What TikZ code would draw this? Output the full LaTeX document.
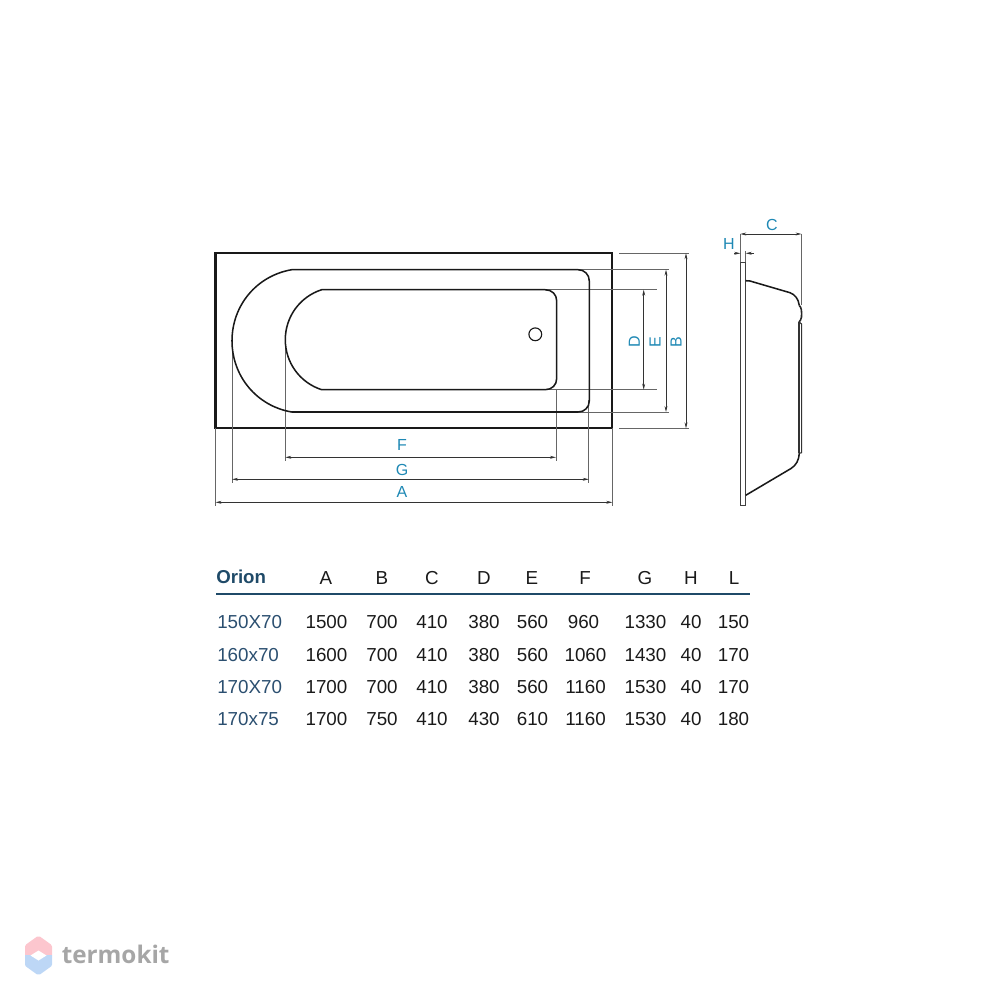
\documentclass[tikz,border=0pt]{standalone}
\usepackage{fontspec}
\setmainfont{Liberation Sans}
\newfontfamily\wmfont{Open Sans}
\usetikzlibrary{arrows.meta}
\definecolor{dimblue}{HTML}{1E88B4}
\definecolor{navy}{HTML}{1F4A68}
\definecolor{rowblue}{HTML}{2B4F70}
\definecolor{txt}{HTML}{1A1A1A}
\definecolor{wmpink}{HTML}{FCC6CE}
\definecolor{wmblue}{HTML}{BDD7F6}
\tikzset{
  x=0.75pt,y=-0.75pt,
  outline/.style={line width=1.6pt,black!90},
  basin/.style={line width=1.15pt,black!90},
  dimline/.style={line width=0.5pt,black!80,{Stealth[length=4.5pt,width=2.2pt]}-{Stealth[length=4.5pt,width=2.2pt]}},
  extline/.style={line width=0.55pt,black!60},
  dimlabel/.style={inner sep=0,text=dimblue,font=\fontsize{12}{14}\selectfont},
  cell/.style={inner sep=0,anchor=base,text=txt,font=\fontsize{14.1}{16}\selectfont},
  rowlabel/.style={inner sep=0,anchor=base west,text=rowblue,font=\fontsize{14.1}{16}\selectfont},
}
\begin{document}
\begin{tikzpicture}
\useasboundingbox (0,0) rectangle (1000,1000);
% outer rim
\draw[outline] (215.5,253.3) rectangle (612.3,428.3);
% extension lines
\draw[extline] (232,353) -- (232,483.3);
\draw[extline] (285.3,340) -- (285.3,460.7);
\draw[extline] (215.5,428.3) -- (215.5,505.7);
\draw[extline] (556,389) -- (556,460.7);
\draw[extline] (588.8,400) -- (588.8,483.3);
\draw[extline] (612.3,428.3) -- (612.3,505.7);
\draw[extline] (619.3,253.3) -- (689.3,253.3);
\draw[extline] (619.3,428.3) -- (689.3,428.3);
\draw[extline] (578,269.7) -- (669.3,269.7);
\draw[extline] (578,412) -- (669.3,412);
\draw[extline] (545,289.7) -- (657.3,289.7);
\draw[extline] (545,389.7) -- (657.3,389.7);
% basin outlines
\draw[basin] (291.7,269.7) -- (578,269.7) .. controls (584.5,269.7) and (589.3,274.5) .. (589.3,281)
  -- (589.3,401) .. controls (589.3,407.2) and (584.5,412) .. (578,412) -- (291.7,412)
  .. controls (256.7,406) and (232,376.2) .. (232,340.8)
  .. controls (232,305.4) and (256.7,275.7) .. (291.7,269.7) -- cycle;
\draw[basin] (321.7,289.7) -- (545,289.7) .. controls (552,289.7) and (556.7,294.5) .. (556.7,301)
  -- (556.7,378.4) .. controls (556.7,385) and (552,389.7) .. (545,389.7) -- (321.7,389.7)
  .. controls (299.9,382.7) and (285.3,362.6) .. (285.3,339.7)
  .. controls (285.3,316.8) and (299.9,296.7) .. (321.7,289.7) -- cycle;
\node[circle,draw=black!90,line width=0.85pt,minimum size=9.6pt,inner sep=0] (drain) at (535.3,334.3) {};
% horizontal dimensions
\coordinate (fl) at (285.3,457.3); \coordinate (fr) at (556,457.3);
\coordinate (gl) at (232,479.3);   \coordinate (gr) at (588.8,479.3);
\coordinate (al) at (215.5,502.3); \coordinate (ar) at (612.3,502.3);
\draw[dimline] (fl) -- (fr);
\draw[dimline] (gl) -- (gr);
\draw[dimline] (al) -- (ar);
\node[dimlabel,anchor=base] (labF) at (402,450.7) {F};
\node[dimlabel,anchor=base] (labG) at (402,475.7) {G};
\node[dimlabel,anchor=base] (labA) at (402,497.3) {A};
% vertical dimensions
\coordinate (dt) at (643.7,289.7); \coordinate (db) at (643.7,389.7);
\coordinate (et) at (666,269.7);   \coordinate (eb) at (666,412);
\coordinate (bt) at (686,253.3);   \coordinate (bb) at (686,428.3);
\draw[dimline] (dt) -- (db);
\draw[dimline] (et) -- (eb);
\draw[dimline] (bt) -- (bb);
\node[dimlabel,rotate=90] (labD) at (634.3,342) {D};
\node[dimlabel,rotate=90] (labE) at (655,342) {E};
\node[dimlabel,rotate=90] (labB) at (676,342) {B};
% side view
\draw[line width=1pt,black!75] (740.3,262.3) rectangle (745.7,505.7);
\draw[basin] (745.7,280.7) -- (750,281) -- (790,292.7)
  .. controls (795,294.5) and (798.5,299) .. (799.3,305.5);
\draw[line width=1.2pt,black!85] (799.3,305.5) .. controls (801.5,307.5) and (801.8,311) .. (801.5,317)
  .. controls (801,320) and (800,321) .. (799,322);
\draw[line width=0.85pt,black!80] (799,322) -- (799,452.7);
\draw[line width=0.85pt,black!80] (799,322) -- (801.6,324) -- (801.6,452.7) -- (799,453.3);
\draw[basin] (745.7,495.3) -- (791,468.5) .. controls (796,465.5) and (799,460) .. (799.3,453.3);
% C and H
\coordinate (cl) at (740.3,234); \coordinate (cr) at (801.5,234);
\draw[dimline] (cl) -- (cr);
\draw[extline] (740.3,234) -- (740.3,262.3);
\draw[extline] (801.5,234) -- (801.5,305);
\draw[extline] (745.7,251) -- (745.7,262.3);
\node[dimlabel] (labC) at (772,224.5) {C};
\node[dimlabel] (labH) at (729,243.5) {H};
\coordinate (hl) at (734,253.3); \coordinate (hla) at (740.3,253.3);
\coordinate (hr) at (754,253.3); \coordinate (hra) at (745.7,253.3);
\draw[line width=0.5pt,black!80,-{Stealth[length=4.5pt,width=2.2pt]}] (hl) -- (hla);
\draw[line width=0.5pt,black!80,-{Stealth[length=4.5pt,width=2.2pt]}] (hr) -- (hra);
% table
\node[inner sep=0,anchor=base west,text=navy,font=\fontsize{14}{16}\selectfont\bfseries] (orion) at (216,583.3) {Orion};
\foreach \t/\cx in {A/326,B/382,C/432,D/484,E/532,F/585,G/645,H/691,L/734}
  \node[cell] (head\t) at (\cx,584) {\t};
\coordinate (rulel) at (216,594); \coordinate (ruler) at (750,594);
\draw[line width=1.8pt,navy] (rulel) -- (ruler);
\foreach \nm/\yy/\va/\vb/\vc/\vd/\ve/\vf/\vg/\vh/\vl in {
  150X70/628.3/1500/700/410/380/560/960/1330/40/150,
  160x70/661.7/1600/700/410/380/560/1060/1430/40/170,
  170X70/693.3/1700/700/410/380/560/1160/1530/40/170,
  170x75/725.7/1700/750/410/430/610/1160/1530/40/180}{
  \node[rowlabel] (row\nm) at (217,\yy) {\nm};
  \node[cell] (a\nm) at (326.5,\yy) {\va};
  \node[cell] (b\nm) at (382,\yy) {\vb};
  \node[cell] (c\nm) at (432,\yy) {\vc};
  \node[cell] (d\nm) at (484,\yy) {\vd};
  \node[cell] (e\nm) at (532.5,\yy) {\ve};
  \node[cell] (g\nm) at (645.5,\yy) {\vg};
  \node[cell] (h\nm) at (691,\yy) {\vh};
  \node[cell] (l\nm) at (733.5,\yy) {\vl};
}
\node[cell] (f1) at (583.5,628.3) {960};
\node[cell] (f2) at (585.5,661.7) {1060};
\node[cell] (f3) at (585.5,693.3) {1160};
\node[cell] (f4) at (585.5,725.7) {1160};
% watermark
\fill[wmpink] (25,955) -- (25,946.5) .. controls (25,945.5) and (25.5,945) .. (26,944.5) -- (37,936.6)
  .. controls (38,936) and (39,936) .. (40,936.6) -- (51,944.5)
  .. controls (51.5,945) and (52,945.5) .. (52,946.5) -- (52,955) -- cycle;
\fill[wmblue] (25,955) -- (25,964.5) .. controls (25,965.5) and (25.5,966) .. (26,966.5) -- (37,974.4)
  .. controls (38,975) and (39,975) .. (40,974.4) -- (51,966.5)
  .. controls (51.5,966) and (52,965.5) .. (52,964.5) -- (52,955) -- cycle;
\fill[white] (30.5,955.5) -- (38.5,950.5) -- (46.5,955.5) -- (38.5,960.5) -- cycle;
\node[inner sep=0,anchor=base west,text=black!35,font=\wmfont\fontsize{18.2}{20}\selectfont\bfseries] (wm) at (61.5,963) {termokit};
\end{tikzpicture}
\end{document}
